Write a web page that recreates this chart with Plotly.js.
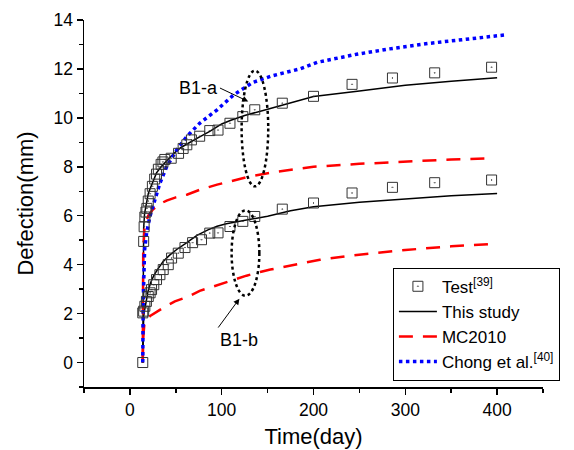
<!DOCTYPE html>
<html>
<head>
<meta charset="utf-8">
<script src="https://cdn.plot.ly/plotly-3.0.1.min.js"></script>
<style>body{margin:0;padding:0;background:#fff;} #chart{width:574px;height:450px;}</style>
</head>
<body>
<div id="chart"></div>
<script>
// Test data (B1-a)
var testA_t = [14, 15, 15.5, 16.3, 17.5, 18.5, 20, 22, 24.5, 27, 29, 31, 34, 36, 38, 45, 53, 58, 62, 67, 76, 87, 96, 109, 123, 136, 166, 200, 242, 286, 332, 394];
var testA_y = [0, 4.95, 5.55, 5.95, 6.15, 6.3, 6.6, 6.9, 7.2, 7.5, 7.7, 7.9, 8.1, 8.2, 8.3, 8.35, 8.55, 8.75, 8.9, 9.1, 9.25, 9.48, 9.5, 9.78, 10.05, 10.33, 10.6, 10.88, 11.37, 11.63, 11.84, 12.07];
// Test data (B1-b)
var testB_t = [14, 15, 16.3, 18, 20, 22, 23.6, 26, 29, 32.7, 36.3, 41.8, 45.4, 52.7, 60, 68.3, 78, 87, 96, 109, 123, 136, 166, 200, 242, 286, 332, 394];
var testB_y = [2.03, 2.1, 2.3, 2.5, 2.7, 2.85, 2.98, 3.18, 3.39, 3.59, 3.8, 4.0, 4.27, 4.47, 4.7, 4.9, 5.02, 5.29, 5.3, 5.56, 5.77, 5.97, 6.27, 6.52, 6.93, 7.16, 7.35, 7.46];
// This study
var studyA_t = [14, 14.5, 15, 16, 18, 20, 22, 25, 29, 34, 40, 48, 56, 65, 75, 87, 100, 110, 125, 150, 175, 200, 250, 300, 350, 400];
var studyA_y = [0, 4.0, 5.5, 6.1, 6.6, 6.9, 7.1, 7.4, 7.75, 8.0, 8.25, 8.55, 8.8, 9.0, 9.2, 9.45, 9.75, 9.9, 10.1, 10.35, 10.6, 10.87, 11.1, 11.33, 11.5, 11.64];
var studyB_t = [14, 14.5, 15, 16.3, 18, 20, 23, 26, 30, 36, 43, 51, 60, 73, 85, 95, 105, 125, 150, 175, 200, 250, 300, 350, 400];
var studyB_y = [0, 1.5, 1.9, 2.2, 2.6, 2.95, 3.3, 3.55, 3.8, 4.12, 4.38, 4.62, 4.85, 5.2, 5.42, 5.57, 5.67, 5.8, 5.98, 6.2, 6.37, 6.55, 6.7, 6.82, 6.91];
// MC2010
var mcA_t = [14, 14.5, 16, 20, 25, 31, 40, 50, 62, 76, 95, 110, 130, 160, 200, 250, 300, 350, 395];
var mcA_y = [0, 4.5, 5.6, 6.0, 6.25, 6.45, 6.62, 6.75, 6.86, 7.06, 7.27, 7.4, 7.6, 7.8, 8.0, 8.12, 8.22, 8.3, 8.35];
var mcB_t = [14, 14.5, 16, 22, 36, 49, 64, 76, 91, 102, 120, 127, 142, 153, 207, 240, 300, 350, 395];
var mcB_y = [0, 1.0, 1.7, 1.9, 2.23, 2.5, 2.7, 2.93, 3.11, 3.25, 3.46, 3.55, 3.7, 3.8, 4.2, 4.37, 4.6, 4.75, 4.85];
// Chong et al.
var chong_t = [14, 14.5, 16, 18.2, 21.8, 27.2, 32.7, 40, 51, 62, 76, 95, 113, 134, 155, 185, 204, 247, 283, 327, 363, 409];
var chong_y = [0, 2.5, 4.6, 5.3, 5.97, 6.65, 7.33, 8.0, 8.69, 9.24, 9.78, 10.33, 10.94, 11.45, 11.72, 12.0, 12.27, 12.6, 12.82, 13.05, 13.21, 13.39];

var names = ['Test<sup>[39]</sup>', 'This study', 'MC2010', 'Chong et al.<sup>[40]</sup>'];
var xTicks = [0, 100, 200, 300, 400];
var yTicks = [0, 2, 4, 6, 8, 10, 12, 14];

// annotation ellipses [x0, x1, y0, y1]
var ellA = [121.7, 150.7, 7.2, 11.93];
var ellB = [110.8, 141, 2.73, 6.22];

var FONT = 'Liberation Sans, Arial, sans-serif';
var redDash = {color: '#ff0000', width: 2.5, dash: '14px,10px'};
var blackLine = {color: '#000000', width: 1.5};
var mk = {symbol: 'square-open-dot', size: 10, color: '#333333', line: {width: 1, color: '#333333'}};

var traces = [
  {x: studyA_t, y: studyA_y, mode: 'lines', line: blackLine, name: names[1], legendgroup: 's', legendrank: 2},
  {x: studyB_t, y: studyB_y, mode: 'lines', line: blackLine, name: names[1], legendgroup: 's', showlegend: false},
  {x: mcA_t, y: mcA_y, mode: 'lines', line: redDash, name: names[2], legendgroup: 'm', legendrank: 3},
  {x: mcB_t, y: mcB_y, mode: 'lines', line: redDash, name: names[2], legendgroup: 'm', showlegend: false},
  {x: chong_t, y: chong_y, mode: 'lines', line: {color: '#0000ff', width: 3.5, dash: 'dot'}, name: names[3], legendrank: 4},
  {x: testA_t, y: testA_y, mode: 'markers', marker: mk, name: names[0], legendgroup: 't', legendrank: 1},
  {x: testB_t, y: testB_y, mode: 'markers', marker: mk, name: names[0], legendgroup: 't', showlegend: false}
];

function ell(e) {
  return {type: 'circle', xref: 'x', yref: 'y', x0: e[0], x1: e[1], y0: e[2], y1: e[3],
          line: {color: '#000', width: 2.5, dash: 'dot'}};
}

var layout = {
  width: 574, height: 450,
  margin: {l: 84, r: 31, t: 20, b: 63},
  paper_bgcolor: '#fff', plot_bgcolor: '#fff',
  font: {family: FONT, size: 18, color: '#000'},
  showlegend: true,
  xaxis: {
    range: [-50, 450], tickvals: xTicks, ticktext: xTicks.map(String),
    showline: true, linecolor: '#000', linewidth: 1.5, mirror: false,
    ticks: 'outside', ticklen: 6, tickwidth: 1.5, tickcolor: '#000',
    showgrid: false, zeroline: false,
    tickfont: {family: FONT, size: 17.5},
    minor: {dtick: 50, tick0: 0, ticks: 'outside', ticklen: 4, tickwidth: 1.5, tickcolor: '#000', showgrid: false},
    title: {text: 'Time(day)', font: {family: FONT, size: 22}, standoff: 10}
  },
  yaxis: {
    range: [-1, 14], tickvals: yTicks, ticktext: yTicks.map(String),
    showline: true, linecolor: '#000', linewidth: 1.5, mirror: false,
    ticks: 'outside', ticklen: 6, tickwidth: 1.5, tickcolor: '#000',
    showgrid: false, zeroline: false,
    tickfont: {family: FONT, size: 17.5},
    minor: {dtick: 1, tick0: 0, ticks: 'outside', ticklen: 4, tickwidth: 1.5, tickcolor: '#000', showgrid: false},
    title: {text: 'Defection(mm)', font: {family: FONT, size: 22}, standoff: 14}
  },
  legend: {
    x: 0.673, y: 0.325, xanchor: 'left', yanchor: 'top',
    bgcolor: '#fff', bordercolor: '#000', borderwidth: 1,
    font: {family: FONT, size: 17}, tracegroupgap: 0, itemwidth: 38,
    traceorder: 'normal'
  },
  shapes: [ell(ellA), ell(ellB)],
  annotations: [
    {x: 128.9, y: 10.67, ax: 98.1, ay: 11.22, axref: 'x', ayref: 'y', xref: 'x', yref: 'y',
     text: 'B1-a', xanchor: 'right', yanchor: 'middle', font: {family: FONT, size: 18},
     showarrow: true, arrowhead: 2, arrowsize: 1.2, arrowwidth: 1, arrowcolor: '#000', standoff: 0},
    {x: 119.3, y: 2.61, ax: 96.2, ay: 1.43, axref: 'x', ayref: 'y', xref: 'x', yref: 'y',
     text: 'B1-b', xanchor: 'left', yanchor: 'top', font: {family: FONT, size: 18},
     showarrow: true, arrowhead: 2, arrowsize: 1.2, arrowwidth: 1, arrowcolor: '#000', standoff: 0}
  ]
};

Plotly.newPlot('chart', traces, layout, {displayModeBar: false, staticPlot: true});
</script>
</body>
</html>
